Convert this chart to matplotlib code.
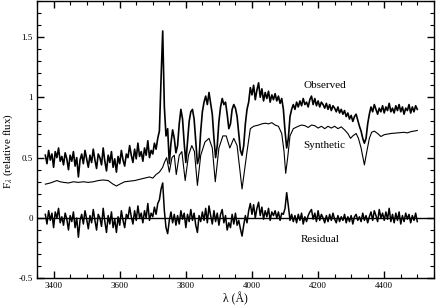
import numpy as np
import matplotlib
matplotlib.use("Agg")
import matplotlib.pyplot as plt
from matplotlib.ticker import MultipleLocator

plt.rcParams['font.family'] = ['Liberation Serif', 'DejaVu Serif']
plt.rcParams['mathtext.fontset'] = 'stix'

# wavelength grid for observed / residual (Angstrom)
wave_start = 3375
wave_step = 5

observed = [
    0.52, 0.45, 0.56, 0.48, 0.53, 0.42, 0.55, 0.50, 0.58, 0.47,
    0.51, 0.44, 0.54, 0.49, 0.40, 0.52, 0.47, 0.55, 0.43, 0.50,
    0.34, 0.48, 0.53, 0.45, 0.56, 0.49, 0.42, 0.52, 0.46, 0.57,
    0.48, 0.41, 0.53, 0.50, 0.44, 0.58, 0.47, 0.39, 0.52, 0.46,
    0.55, 0.42, 0.49, 0.38, 0.51, 0.45, 0.56, 0.48, 0.43, 0.53,
    0.50, 0.60, 0.52, 0.46, 0.57, 0.49, 0.62, 0.51, 0.55, 0.47,
    0.58, 0.52, 0.64, 0.50, 0.56, 0.53, 0.62, 0.57, 0.66, 0.72,
    1.15, 1.55, 0.92, 0.68, 0.74, 0.45, 0.62, 0.73, 0.66, 0.54,
    0.60, 0.78, 0.90, 0.82, 0.62, 0.46, 0.63, 0.80, 0.88, 0.90,
    0.82, 0.64, 0.45, 0.50, 0.72, 0.88, 0.96, 1.01, 0.94, 1.04,
    0.95, 0.86, 0.66, 0.50, 0.60, 0.80, 0.92, 0.99, 0.94, 0.96,
    0.86, 0.74, 0.78, 0.90, 0.94, 0.91, 0.84, 0.70, 0.56, 0.52,
    0.60, 0.78, 0.90, 0.96, 1.08, 1.02, 1.10, 0.98, 1.06, 1.12,
    1.00, 1.07, 0.97, 1.04, 0.99, 1.05, 0.96, 1.02, 0.98, 1.03,
    0.97, 1.01, 0.95, 0.99, 0.90, 0.72, 0.58, 0.66, 0.84, 0.90,
    0.94, 0.90, 0.96, 0.92, 0.97, 0.93, 0.99, 0.94, 0.96, 0.92,
    0.98, 1.01, 0.94, 0.99, 0.93, 0.97, 0.92, 0.96, 0.94, 0.91,
    0.95, 0.90, 0.94, 0.89, 0.93, 0.91, 0.88, 0.92, 0.87, 0.90,
    0.86, 0.89, 0.84, 0.87, 0.82, 0.85, 0.80, 0.84, 0.86, 0.81,
    0.76, 0.72, 0.66, 0.62, 0.66, 0.78, 0.86, 0.92, 0.88, 0.94,
    0.90, 0.86, 0.91, 0.88, 0.93, 0.87, 0.92, 0.89, 0.95, 0.88,
    0.91, 0.87, 0.93, 0.89, 0.94, 0.88, 0.92, 0.86, 0.91, 0.89,
    0.94, 0.87, 0.92, 0.88, 0.93, 0.90,
]

residual = [
    0.03, -0.05, 0.06, -0.02, 0.04, -0.08, 0.05, 0.00, 0.08, -0.04,
    0.01, -0.06, 0.04, -0.01, -0.10, 0.02, -0.03, 0.05, -0.08, 0.00,
    -0.16, -0.02, 0.03, -0.05, 0.06, -0.01, -0.09, 0.02, -0.04, 0.07,
    -0.02, -0.10, 0.03, 0.00, -0.07, 0.08, -0.03, -0.12, 0.02, -0.05,
    0.05, -0.08, -0.01, -0.12, 0.01, -0.06, 0.06, -0.02, -0.08, 0.03,
    0.00, 0.09, 0.01, -0.05, 0.06, -0.02, 0.10, 0.00, 0.04, -0.04,
    0.06, 0.00, 0.12, -0.02, 0.04, 0.01, 0.09, 0.03, 0.12, 0.15,
    0.24, 0.29, 0.06, -0.08, -0.13, -0.02, 0.05, -0.04, 0.03, -0.06,
    0.02, -0.05, 0.06, -0.01, 0.04, -0.08, 0.03, -0.03, 0.07, -0.02,
    0.04, -0.06, -0.12, 0.02, -0.03, 0.05, -0.02, 0.08, -0.04, 0.10,
    0.02, -0.05, 0.06, -0.03, 0.04, -0.06, 0.03, 0.07, -0.04, 0.02,
    -0.10, -0.04, -0.08, 0.03, -0.05, 0.04, -0.06, -0.02, -0.09, -0.15,
    -0.06, 0.02, -0.04, 0.06, 0.12, 0.03, 0.11, 0.00, 0.08, 0.13,
    0.02, 0.09, -0.01, 0.06, 0.01, 0.08, -0.02, 0.05, 0.02, 0.06,
    0.00, 0.05, -0.02, 0.04, 0.03, 0.08, 0.21, 0.10, -0.02, 0.03,
    -0.03, 0.02, -0.04, 0.03, -0.02, 0.04, -0.05, 0.01, -0.03, 0.02,
    0.05, 0.07, -0.01, 0.04, -0.03, 0.06, -0.02, 0.03, 0.00, -0.04,
    0.02, -0.03, 0.03, -0.02, 0.04, -0.01, -0.04, 0.02, -0.03, 0.01,
    -0.02, 0.03, -0.04, 0.01, -0.03, 0.02, -0.05, 0.01, 0.03, -0.02,
    0.01, -0.03, 0.04, -0.02, 0.02, -0.04, 0.01, 0.05, -0.02, 0.06,
    0.02, -0.03, 0.07, 0.00, 0.04, -0.02, 0.05, -0.01, 0.08, -0.03,
    0.03, -0.04, 0.04, -0.02, 0.05, -0.05, 0.02, -0.03, 0.04, -0.01,
    0.03, -0.04, 0.02, -0.02, 0.04, -0.03,
]

synth_wave = [
    3375, 3390, 3400, 3410, 3420, 3430, 3445, 3460, 3475, 3490, 3505, 3520,
    3535, 3550, 3565, 3580, 3590, 3600, 3615, 3630, 3645, 3660, 3675, 3690,
    3700, 3710, 3720, 3730, 3735, 3742, 3750, 3758, 3765, 3771, 3780, 3788,
    3798, 3808, 3818, 3826, 3835, 3845, 3858, 3870, 3880, 3889, 3900, 3912,
    3922, 3933, 3945, 3955, 3970, 3985, 3995, 4005, 4020, 4030, 4040, 4050,
    4060, 4070, 4080, 4090, 4097, 4102, 4108, 4115, 4125, 4140, 4150, 4160,
    4170, 4180, 4190, 4200, 4210, 4220, 4230, 4240, 4250, 4260, 4270, 4280,
    4290, 4298, 4305, 4315, 4322, 4330, 4340, 4348, 4355, 4362, 4370, 4380,
    4390, 4400, 4420, 4440, 4460, 4470, 4480, 4490, 4500,
]
synthetic = [
    0.28, 0.29, 0.30, 0.31, 0.30, 0.295, 0.29, 0.30, 0.295, 0.30, 0.295, 0.30,
    0.31, 0.315, 0.31, 0.28, 0.265, 0.28, 0.30, 0.305, 0.31, 0.32, 0.33, 0.34,
    0.33, 0.36, 0.38, 0.42, 0.46, 0.50, 0.38, 0.50, 0.52, 0.36, 0.52, 0.55,
    0.31, 0.52, 0.60, 0.55, 0.27, 0.52, 0.63, 0.66, 0.58, 0.30, 0.58, 0.68,
    0.68, 0.58, 0.66, 0.60, 0.24, 0.55, 0.74, 0.76, 0.77, 0.78, 0.785, 0.78,
    0.79, 0.77, 0.76, 0.70, 0.55, 0.37, 0.50, 0.68, 0.74, 0.76, 0.77, 0.765,
    0.75, 0.77, 0.765, 0.745, 0.76, 0.74, 0.76, 0.745, 0.76, 0.74, 0.755, 0.73,
    0.70, 0.66, 0.68, 0.70, 0.66, 0.58, 0.44, 0.56, 0.66, 0.71, 0.72, 0.70,
    0.675, 0.69, 0.70, 0.705, 0.71, 0.705, 0.715, 0.72, 0.725,
]

labels = ["Observed", "Synthetic", "Residual"]
label_pos = [(4220, 1.10), (4220, 0.60), (4205, -0.18)]

wave = wave_start + wave_step * np.arange(len(observed))

fig = plt.figure(figsize=(4.36, 3.06), dpi=100)
ax = fig.add_axes([0.085, 0.0905, 0.91, 0.907])

ax.axhline(0, color='black', lw=1.0)
ax.plot(synth_wave, synthetic, color='black', lw=0.8)
ax.plot(wave, observed, color='black', lw=1.2)
ax.plot(wave, residual, color='black', lw=1.1)

for t, (x, y) in zip(labels, label_pos):
    ax.text(x, y, t, ha='center', va='center', fontsize=8)

ax.set_xlim(3350, 4550)
ax.set_ylim(-0.5, 1.8)
ax.xaxis.set_major_locator(MultipleLocator(200))
ax.xaxis.set_minor_locator(MultipleLocator(50))
ax.yaxis.set_major_locator(MultipleLocator(0.5))
ax.yaxis.set_minor_locator(MultipleLocator(0.1))
ax.yaxis.set_major_formatter(plt.FuncFormatter(lambda v, p: f"{v:g}"))
ax.tick_params(which='both', direction='in', top=True, right=True, labelsize=6.5, pad=3)
ax.tick_params(which='major', length=5, width=1)
ax.tick_params(which='minor', length=3, width=0.8)
for s in ax.spines.values():
    s.set_linewidth(1)

ax.set_xlabel("λ (Å)", fontsize=8.5, labelpad=1)
ax.set_ylabel(r"F$_\lambda$ (relative flux)", fontsize=8)
ax.yaxis.set_label_coords(-0.055, 0.46)

fig.savefig("out.png", dpi=100)
